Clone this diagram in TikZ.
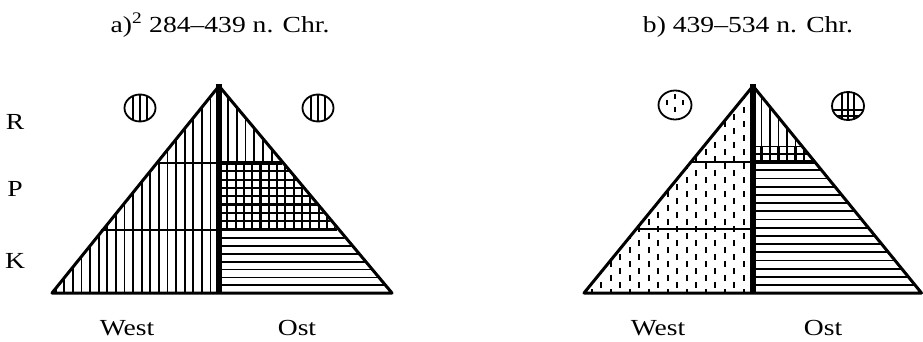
\documentclass[tikz,border=0pt]{standalone}
\usepackage{fontspec}
\setmainfont{Liberation Serif}
\usepackage{graphicx}
\newcommand\widetxt[1]{\scalebox{1.2}[1]{#1}}
\begin{document}
\begin{tikzpicture}[x=1pt,y=-1pt,
  lbl/.style={font=\fontsize{23}{27}\selectfont, inner sep=0pt, anchor=base},
  hatch/.style={line width=1.8pt},
  gridl/.style={line width=2.1pt},
  sep/.style={line width=1.6pt},
  septhick/.style={line width=3.4pt},
  edge/.style={line width=3pt, line join=round},
  axis/.style={line width=5.5pt},
  ring/.style={line width=1.8pt},
  dots/.style={line width=2pt, dash pattern=on 6pt off 8pt}]
\useasboundingbox (0,0) rectangle (923,342);

% ---------------- a) ----------------
\begin{scope}
  \clip (219,86) -- (52,293) -- (219,293) -- cycle;
  \foreach \i in {1,...,20} \draw[hatch] ({219-8.6*\i},80) -- ({219-8.6*\i},300);
\end{scope}
\begin{scope}
  \clip (219,86) -- (219,163) -- (282.2,163) -- cycle;
  \foreach \i in {1,...,8} \draw[hatch] ({219+8.8*\i},80) -- ({219+8.8*\i},170);
\end{scope}
\begin{scope}
  \clip (219,163) -- (219,230) -- (337.3,230) -- (282.2,163) -- cycle;
  \foreach \i in {1,...,15} \draw[gridl] ({219+8.3*\i},160) -- ({219+8.3*\i},235);
  \foreach \j in {1,...,8} \draw[gridl] (215,{163+8.3*\j}) -- (340,{163+8.3*\j});
\end{scope}
\begin{scope}
  \clip (219,230) -- (219,293) -- (392,293) -- (337.3,230) -- cycle;
  \foreach \j in {1,...,7} \draw[hatch] (215,{230+7.9*\j}) -- (395,{230+7.9*\j});
\end{scope}
\draw[sep] (155.8,163) -- (219,163);
\draw[sep] (100.7,230) -- (219,230);
\draw[septhick] (219,163) -- (282.2,163);
\draw[line width=2.6pt] (219,230) -- (337.3,230);
\draw[edge] (219,86) -- (52,293) -- (392,293) -- cycle;
\draw[axis] (219,84) -- (219,293);

% circles a)
\draw[ring] (140,108) ellipse [x radius=15.5pt, y radius=13.5pt];
\begin{scope}
  \clip (140,108) ellipse [x radius=15.5pt, y radius=13.5pt];
  \foreach \d in {-7,0,7} \draw[hatch] ({140+\d},90) -- ({140+\d},125);
\end{scope}
\draw[ring] (318,108) ellipse [x radius=15.5pt, y radius=13.5pt];
\begin{scope}
  \clip (318,108) ellipse [x radius=15.5pt, y radius=13.5pt];
  \foreach \d in {-7,0,7} \draw[hatch] ({318+\d},90) -- ({318+\d},125);
\end{scope}

% ---------------- b) ----------------
\begin{scope}
  \clip (753,86) -- (584,293) -- (753,293) -- cycle;
  \foreach \i in {1,...,18} {
    \pgfmathsetmacro\ph{mod(\i,2)*7}
    \draw[dots, dash phase=\ph pt] ({753-9.5*\i},86) -- ({753-9.5*\i},300);
  }
\end{scope}
\begin{scope}
  \clip (753,86) -- (753,146) -- (802,146) -- cycle;
  \foreach \i in {1,...,6} \draw[hatch] ({753+8.5*\i},80) -- ({753+8.5*\i},150);
\end{scope}
\begin{scope}
  \clip (753,146) -- (753,162) -- (815,162) -- (802,146) -- cycle;
  \foreach \i in {1,...,8} \draw[gridl] ({753+8.5*\i},140) -- ({753+8.5*\i},165);
  \draw[gridl] (750,146) -- (820,146);
  \draw[gridl] (750,154) -- (820,154);
\end{scope}
\begin{scope}
  \clip (753,162) -- (753,293) -- (922,293) -- (815,162) -- cycle;
  \foreach \j in {1,...,15} \draw[hatch] (750,{162+8.2*\j}) -- (925,{162+8.2*\j});
\end{scope}
\draw[sep] (691,162) -- (753,162);
\draw[sep] (636.3,229) -- (753,229);
\draw[septhick] (753,162) -- (815,162);
\draw[edge] (753,86) -- (584,293) -- (921.5,293) -- cycle;
\draw[axis] (753,84) -- (753,293);

% circles b)
\draw[ring] (675,105) ellipse [x radius=16.5pt, y radius=14.5pt];
\draw[hatch] (675,94) -- (675,99);
\draw[hatch] (667,100) -- (667,105);
\draw[hatch] (683,100) -- (683,105);
\draw[hatch] (675,107) -- (675,112);
\draw[ring] (848,106) ellipse [x radius=16pt, y radius=14pt];
\begin{scope}
  \clip (848,106) ellipse [x radius=16pt, y radius=14pt];
  \foreach \d in {-6,0,6} \draw[hatch] ({848+\d},90) -- ({848+\d},122);
  \draw[hatch] (830,110) -- (866,110);
  \draw[hatch] (830,116) -- (866,116);
\end{scope}

% ---------------- labels ----------------
\node[lbl] (ta) at (220,33) {\widetxt{a)\textsuperscript{2} 284–439 n. Chr.}};
\node[lbl] (tb) at (748,33) {\widetxt{b) 439–534 n. Chr.}};
\node[lbl] (r) at (15,129) {\widetxt{R}};
\node[lbl] (p) at (15,196) {\widetxt{P}};
\node[lbl] (k) at (15,268) {\widetxt{K}};
\node[lbl] (wa) at (127,335) {\widetxt{West}};
\node[lbl] (oa) at (297,335) {\widetxt{Ost}};
\node[lbl] (wb) at (658,335) {\widetxt{West}};
\node[lbl] (ob) at (823,335) {\widetxt{Ost}};
\end{tikzpicture}
\end{document}
